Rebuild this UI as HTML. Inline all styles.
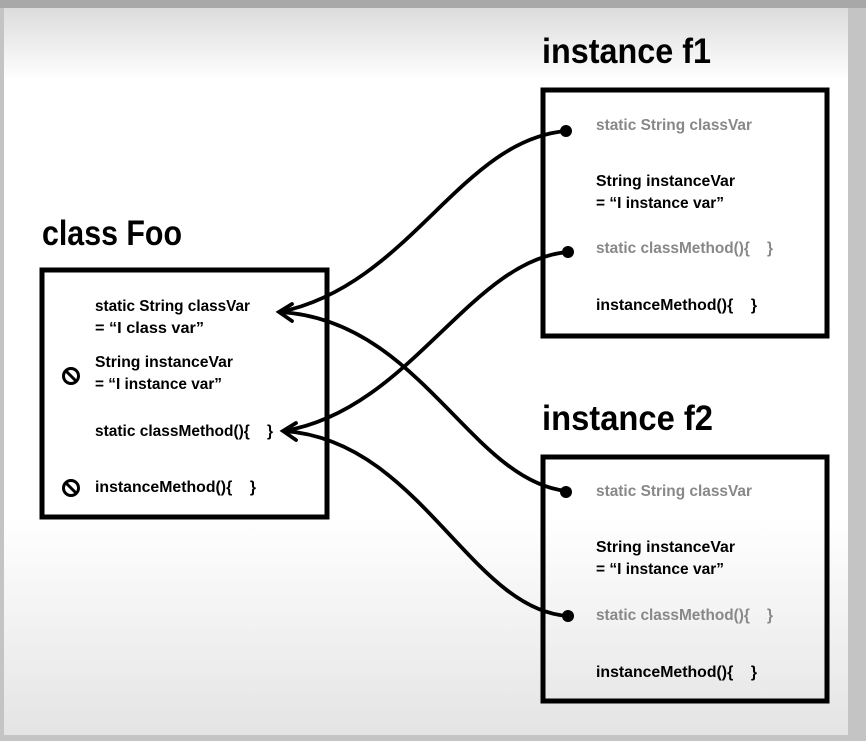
<!DOCTYPE html>
<html><head><meta charset="utf-8"><style>
body{margin:0;width:866px;height:741px;overflow:hidden;background:#fff;}
</style></head><body>
<svg width="866" height="741" xmlns="http://www.w3.org/2000/svg" style="position:absolute;left:0;top:0">
<defs>
<linearGradient id="g" x1="0" y1="0" x2="0" y2="1">
<stop offset="0" stop-color="#dcdcdc"/><stop offset="0.1" stop-color="#ffffff"/>
<stop offset="0.7" stop-color="#ffffff"/><stop offset="1" stop-color="#e4e4e4"/>
</linearGradient>
</defs>
<rect x="0" y="0" width="866" height="741" fill="#c4c4c4"/>
<rect x="0" y="0" width="866" height="8" fill="#a8a8a8"/>
<rect x="4" y="8" width="844" height="727" fill="url(#g)"/>
<g font-family="'Liberation Sans',sans-serif" font-weight="bold">
<text x="42" y="245" font-size="35" textLength="140" lengthAdjust="spacingAndGlyphs">class Foo</text>
<text x="542" y="63" font-size="35" textLength="169" lengthAdjust="spacingAndGlyphs">instance f1</text>
<text x="542" y="430" font-size="35" textLength="171" lengthAdjust="spacingAndGlyphs">instance f2</text>
</g>
<g fill="none" stroke="#000" stroke-width="5">
<rect x="42" y="270" width="285" height="247"/>
<rect x="543" y="90" width="284" height="246"/>
<rect x="543" y="457" width="284" height="244"/>
</g>
<g font-family="'Liberation Sans',sans-serif" font-weight="bold" font-size="16" fill="#000">
<text x="95" y="311" textLength="155" lengthAdjust="spacingAndGlyphs">static String classVar</text>
<text x="95" y="333" textLength="109" lengthAdjust="spacingAndGlyphs">= “I class var”</text>
<text x="95" y="367" textLength="138" lengthAdjust="spacingAndGlyphs">String instanceVar</text>
<text x="95" y="389" textLength="127" lengthAdjust="spacingAndGlyphs">= “I instance var”</text>
<text x="95" y="436" textLength="178" lengthAdjust="spacingAndGlyphs">static classMethod(){&#160;&#160;&#160;&#160;}</text>
<text x="95" y="492" textLength="161" lengthAdjust="spacingAndGlyphs">instanceMethod(){&#160;&#160;&#160;&#160;}</text>
<text x="596" y="130" fill="#888" textLength="156" lengthAdjust="spacingAndGlyphs">static String classVar</text>
<text x="596" y="186" textLength="139" lengthAdjust="spacingAndGlyphs">String instanceVar</text>
<text x="596" y="208" textLength="128" lengthAdjust="spacingAndGlyphs">= “I instance var”</text>
<text x="596" y="253" fill="#888" textLength="177" lengthAdjust="spacingAndGlyphs">static classMethod(){&#160;&#160;&#160;&#160;}</text>
<text x="596" y="310" textLength="161" lengthAdjust="spacingAndGlyphs">instanceMethod(){&#160;&#160;&#160;&#160;}</text>
<text x="596" y="496" fill="#888" textLength="156" lengthAdjust="spacingAndGlyphs">static String classVar</text>
<text x="596" y="552" textLength="139" lengthAdjust="spacingAndGlyphs">String instanceVar</text>
<text x="596" y="574" textLength="128" lengthAdjust="spacingAndGlyphs">= “I instance var”</text>
<text x="596" y="620" fill="#888" textLength="177" lengthAdjust="spacingAndGlyphs">static classMethod(){&#160;&#160;&#160;&#160;}</text>
<text x="596" y="677" textLength="161" lengthAdjust="spacingAndGlyphs">instanceMethod(){&#160;&#160;&#160;&#160;}</text>
</g>
<g fill="none" stroke="#000" stroke-width="3">
<circle cx="71" cy="376" r="7.5"/><line x1="66" y1="371" x2="76" y2="381"/>
<circle cx="71" cy="488" r="7.5"/><line x1="66" y1="483" x2="76" y2="493"/>
</g>
<g fill="none" stroke="#000" stroke-width="3.8" stroke-linecap="round">
<path d="M566,131 C460,140 410,285 280,312"/>
<path d="M566,491 C470,480 420,320 280,312"/>
<path d="M568,252 C470,260 410,410 284,431"/>
<path d="M568,616 C470,610 420,440 284,431"/>
<path d="M292,304 L279,312 L292,321"/>
<path d="M296,423 L283,431 L296,440"/>
</g>
<g fill="#000">
<circle cx="566" cy="131" r="6"/><circle cx="568" cy="252" r="6"/>
<circle cx="566" cy="492" r="6"/><circle cx="568" cy="616" r="6"/>
</g>
</svg>
</body></html>
